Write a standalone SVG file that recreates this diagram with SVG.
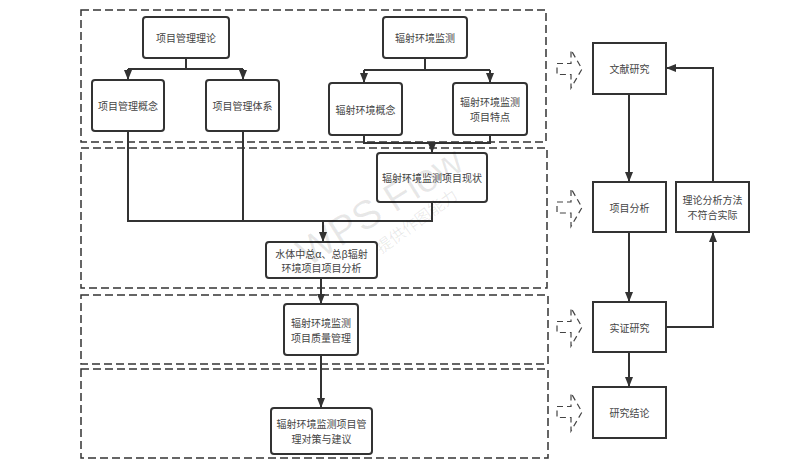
<svg xmlns="http://www.w3.org/2000/svg" width="787" height="470" viewBox="0 0 787 470">
  <defs>
    <marker id="arr" markerUnits="userSpaceOnUse" markerWidth="10" markerHeight="8" refX="10" refY="4" orient="auto">
      <path d="M0,0 L10,4 L0,8 z" fill="#333"/>
    </marker>
    <style>
      .bg { fill: #ffffff; }
      .group { fill: none; stroke: #333; stroke-width: 1.5; stroke-dasharray: 8 4; }
      .rnode { fill: #fff; stroke: #333; stroke-width: 2; }
      .snode { fill: #fff; stroke: #333; stroke-width: 2; }
      .lbl { font-family: "Noto Sans CJK SC", "Noto Sans", sans-serif; font-size: 10px; fill: #444; text-anchor: middle; dominant-baseline: central; }
      .conn { fill: none; stroke: #333; stroke-width: 2; }
      .icon { fill: none; stroke: #444; stroke-width: 1.2; stroke-dasharray: 6 4; }
      .wm { fill: #000; fill-opacity: 0.09; text-anchor: middle; }
    </style>
  </defs>
  <rect class="bg" x="0" y="0" width="787" height="470"/>

  <g id="groups">
    <rect class="group" x="81" y="10" width="465" height="132"/>
    <rect class="group" x="81" y="148" width="466" height="140"/>
    <rect class="group" x="81" y="295" width="467" height="69"/>
    <rect class="group" x="81" y="369" width="467" height="89"/>
  </g>

  <g id="connectors">
    <path class="conn" d="M186,58 V69 M128,69 H243"/>
    <path class="conn" d="M128,69 V80" marker-end="url(#arr)"/>
    <path class="conn" d="M243,69 V80" marker-end="url(#arr)"/>
    <path class="conn" d="M425,58 V70 M364,70 H490"/>
    <path class="conn" d="M364,70 V83" marker-end="url(#arr)"/>
    <path class="conn" d="M490,70 V83" marker-end="url(#arr)"/>
    <path class="conn" d="M364,135 V143 H490 V135"/>
    <path class="conn" d="M432,143 V153" marker-end="url(#arr)"/>
    <path class="conn" d="M128,131 V221 H432 V202 M243,131 V221"/>
    <path class="conn" d="M323,221 V242" marker-end="url(#arr)"/>
    <path class="conn" d="M321,278 V304" marker-end="url(#arr)"/>
    <path class="conn" d="M321,355 V408" marker-end="url(#arr)"/>
    <path class="conn" d="M629,94 V182" marker-end="url(#arr)"/>
    <path class="conn" d="M629,232 V302" marker-end="url(#arr)"/>
    <path class="conn" d="M629,352 V387" marker-end="url(#arr)"/>
    <path class="conn" d="M666,327 H713 V232" marker-end="url(#arr)"/>
    <path class="conn" d="M713,182 V68 H666" marker-end="url(#arr)"/>
  </g>

  <g id="n-xmglll"><rect class="rnode" x="143" y="17" width="86" height="41" rx="3"/><text class="lbl" x="186" y="37.5">项目管理理论</text></g>
  <g id="n-xmglgn"><rect class="rnode" x="92" y="80" width="72" height="51" rx="3"/><text class="lbl" x="128" y="105.5">项目管理概念</text></g>
  <g id="n-xmgltx"><rect class="rnode" x="206" y="80" width="73" height="51" rx="3"/><text class="lbl" x="242.5" y="105.5">项目管理体系</text></g>
  <g id="n-fshjjc"><rect class="rnode" x="383" y="17" width="84" height="41" rx="3"/><text class="lbl" x="425" y="37.5">辐射环境监测</text></g>
  <g id="n-fshjgn"><rect class="rnode" x="329" y="83" width="73" height="52" rx="3"/><text class="lbl" x="365.5" y="109">辐射环境概念</text></g>
  <g id="n-tedian"><rect class="rnode" x="453" y="83" width="74" height="52" rx="3"/><text class="lbl" x="490" y="101.5">辐射环境监测</text><text class="lbl" x="490" y="116.5">项目特点</text></g>
  <g id="n-xianzhuang"><rect class="rnode" x="377" y="153" width="110" height="49" rx="3"/><text class="lbl" x="432" y="177.5">辐射环境监测项目现状</text></g>
  <g id="n-fenxi"><rect class="rnode" x="266" y="242" width="111" height="36" rx="3"/><text class="lbl" x="321.5" y="253">水体中总α、总β辐射</text><text class="lbl" x="321.5" y="267.5">环境项目项目分析</text></g>
  <g id="n-zhiliang"><rect class="rnode" x="284" y="304" width="74" height="51" rx="3"/><text class="lbl" x="321" y="322">辐射环境监测</text><text class="lbl" x="321" y="337">项目质量管理</text></g>
  <g id="n-jianyi"><rect class="rnode" x="271" y="408" width="101" height="46" rx="3"/><text class="lbl" x="321.5" y="423.5">辐射环境监测项目管</text><text class="lbl" x="321.5" y="438.5">理对策与建议</text></g>

  <g id="n-wenxian"><rect class="snode" x="593" y="43" width="73" height="51"/><text class="lbl" x="629.5" y="68.5">文献研究</text></g>
  <g id="n-xmfx"><rect class="snode" x="593" y="182" width="73" height="50"/><text class="lbl" x="629.5" y="207">项目分析</text></g>
  <g id="n-shizheng"><rect class="snode" x="593" y="302" width="73" height="50"/><text class="lbl" x="629.5" y="327">实证研究</text></g>
  <g id="n-jielun"><rect class="snode" x="593" y="387" width="73" height="51"/><text class="lbl" x="629.5" y="412.5">研究结论</text></g>
  <g id="n-lilun"><rect class="snode" x="676" y="182" width="73" height="50"/><text class="lbl" x="712.5" y="199.5">理论分析方法</text><text class="lbl" x="712.5" y="214.5">不符合实际</text></g>

  <g id="icons">
    <path class="icon" d="M557,63.5 H571 V50 L582,69 L571,88 V74.5 H557 Z"/>
    <path class="icon" d="M557,202 H571 V188.5 L582,207.5 L571,226.5 V213 H557 Z"/>
    <path class="icon" d="M557,321.5 H571 V308 L582,327 L571,346 V332.5 H557 Z"/>
    <path class="icon" d="M557,406.5 H571 V393 L582,412 L571,431 V417.5 H557 Z"/>
  </g>

  <g id="watermark">
    <text class="wm" x="387" y="218" font-size="40" font-family="Liberation Sans, sans-serif" transform="rotate(-32 387 218)">WPS Flow</text>
    <text class="wm" x="420" y="226" font-size="16" font-family="Noto Sans CJK SC, sans-serif" transform="rotate(-36 420 226)">提供作图能力</text>
  </g>
</svg>
